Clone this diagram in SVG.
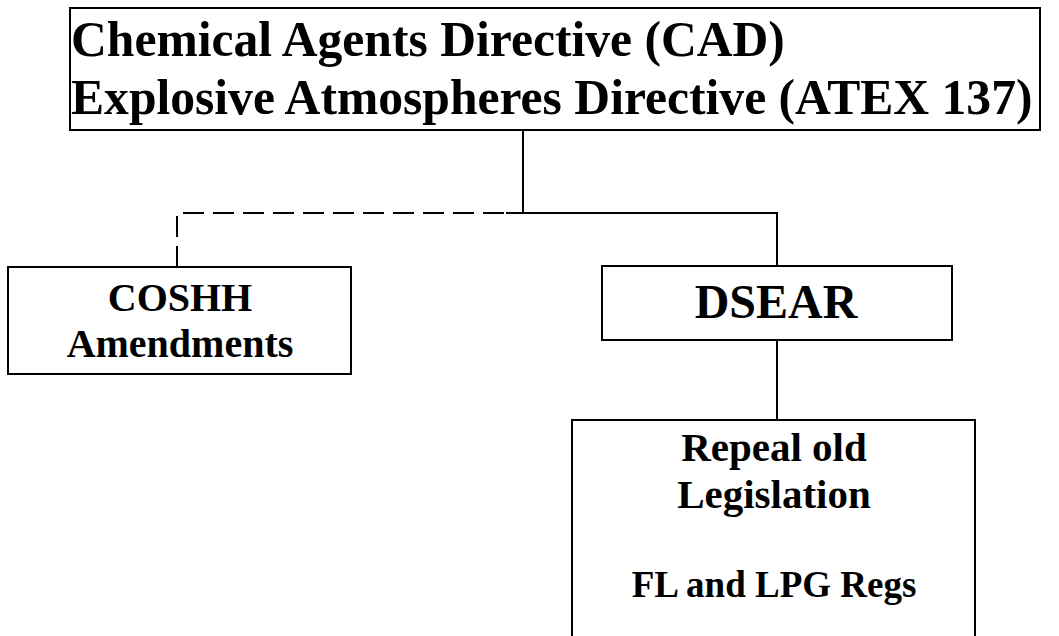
<svg xmlns="http://www.w3.org/2000/svg" width="1059" height="636" viewBox="0 0 1059 636">
<style>
.box{fill:#fff;stroke:#000;stroke-width:2}
.t{font-family:"Liberation Serif","Times New Roman",serif;font-weight:bold;fill:#000}
.c{text-anchor:middle}
.ln{fill:none;stroke:#000;stroke-width:2}
.dash{stroke-dasharray:21 9}
</style>
<rect width="1059" height="636" fill="#fff"/>
<g id="connectors">
<path class="ln" d="M523,130 V213"/>
<path class="ln" d="M506,213 H777 V266"/>
<path class="ln dash" d="M177,267 V213 H506"/>
<path class="ln" d="M777,340 V420"/>
</g>
<g id="top">
<rect class="box" x="70" y="8" width="970" height="122"/>
<text class="t" x="71" y="56" font-size="49.6">Chemical Agents Directive (CAD)</text>
<text class="t" x="71" y="114" font-size="49.6">Explosive Atmospheres Directive (ATEX 137)</text>
</g>
<g id="coshh">
<rect class="box" x="8" y="267" width="343" height="107"/>
<text class="t c" x="180" y="311" font-size="40">COSHH</text>
<text class="t c" x="180" y="357" font-size="40">Amendments</text>
</g>
<g id="dsear">
<rect class="box" x="602" y="266" width="350" height="74"/>
<text class="t c" x="776" y="318" font-size="48">DSEAR</text>
</g>
<g id="repeal">
<rect class="box" x="572" y="420" width="403" height="240"/>
<text class="t c" x="774" y="461" font-size="41">Repeal old</text>
<text class="t c" x="774" y="508" font-size="41">Legislation</text>
<text class="t c" x="774" y="597" font-size="37">FL and LPG Regs</text>
</g>
</svg>
